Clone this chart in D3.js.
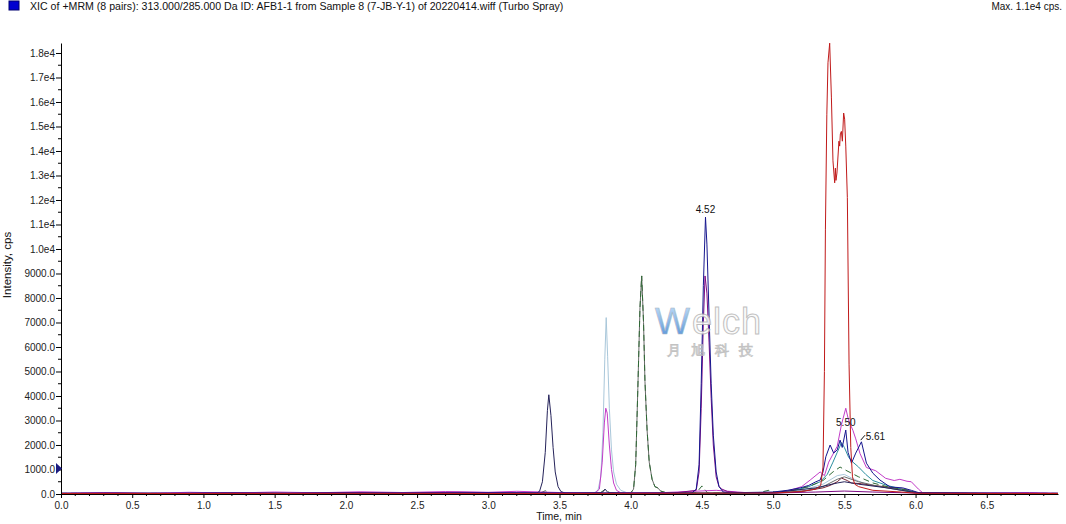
<!DOCTYPE html>
<html><head><meta charset="utf-8">
<script src="https://cdn.jsdelivr.net/npm/d3@7"></script>
<style>
body{margin:0;background:#fff;}
svg{display:block;}
text{font-family:"Liberation Sans",Arial,sans-serif;}
</style></head>
<body><svg id="c" width="1066" height="524"></svg>
<script>
// ---- data ----
const titleText = "XIC of +MRM (8 pairs): 313.000/285.000 Da ID: AFB1-1 from Sample 8 (7-JB-Y-1) of 20220414.wiff (Turbo Spray)";
const maxText = "Max. 1.1e4 cps.";
const xTickValues = [0,0.5,1.0,1.5,2.0,2.5,3.0,3.5,4.0,4.5,5.0,5.5,6.0,6.5];
const yTickValues = [0,1000,2000,3000,4000,5000,6000,7000,8000,9000,10000,11000,12000,13000,14000,15000,16000,17000,18000];
const peakLabels = [{t:4.525, v:11300, text:"4.52"},{t:5.51, v:2610, text:"5.50"}];

const tNavy = [0,0.4,0.8,1.2,1.6,2.0,2.4,2.8,3.1,3.3,3.34,3.36,3.38,3.40,3.415,3.425,3.44,3.455,3.47,3.49,3.51,3.54,3.6,3.8,3.82,3.84,4.0,4.3,4.6,5.0,5.3,5.45,5.5,5.6,5.8,6.0,6.4,6.8,7.0];
const vNavy = [20,35,15,40,20,45,30,50,35,40,40,110,500,1700,3400,4050,3200,1900,900,300,100,40,30,60,200,60,30,40,30,60,250,450,500,400,250,60,30,25,20];

const tLightBlue = [0,0.5,1.0,1.5,2.0,2.5,3.0,3.5,3.74,3.77,3.79,3.805,3.818,3.828,3.838,3.85,3.865,3.88,3.90,3.93,3.97,4.2,4.6,5.0,5.2,5.35,5.45,5.50,5.55,5.65,5.8,5.95,6.02,6.5,7.0];
const vLightBlue = [25,20,30,25,35,30,40,30,40,150,700,2500,5500,7200,5600,3500,1800,900,400,150,60,40,30,60,150,400,750,800,650,400,250,120,40,20,25];

const tMagenta = [0,0.3,0.6,0.9,1.2,1.5,1.8,2.1,2.4,2.7,3.0,3.2,3.5,3.75,3.78,3.80,3.815,3.825,3.835,3.85,3.865,3.88,3.90,3.93,4.2,4.6,4.8,5.0,5.1,5.2,5.26,5.33,5.36,5.39,5.45,5.48,5.51,5.53,5.56,5.58,5.61,5.655,5.72,5.79,5.85,5.89,5.94,5.97,6.02,6.05,6.4,6.8,7.0];
const vMagenta = [30,60,25,70,40,80,50,90,60,100,70,110,60,40,200,1300,2900,3500,3300,2000,1000,450,150,50,50,150,60,60,120,300,570,900,750,1300,1950,2840,3500,3000,2600,2250,1650,1080,950,640,550,600,520,500,200,50,40,60,30];

const tGray = [0,0.5,1.0,1.5,2.0,2.5,3.0,3.5,4.0,4.02,4.035,4.05,4.065,4.077,4.09,4.10,4.115,4.13,4.15,4.17,4.19,4.21,4.25,4.5,5.0,5.2,5.35,5.45,5.5,5.6,5.75,5.9,6.0,6.5,7.0];
const vGray = [20,25,20,30,25,30,25,35,40,200,1200,4300,7600,8900,7000,4600,2600,1300,600,300,250,120,50,40,50,100,300,600,700,500,300,150,40,25,20];

const tGreen = [0,0.5,1.0,1.5,2.0,2.5,3.0,3.36,3.40,3.44,3.5,3.78,3.82,3.86,4.0,4.02,4.035,4.05,4.065,4.077,4.09,4.10,4.115,4.13,4.15,4.17,4.19,4.21,4.25,4.46,4.50,4.54,4.7,4.9,4.97,5.02,5.1,5.25,5.35,5.42,5.47,5.50,5.55,5.60,5.70,5.80,5.95,6.02,6.5,7.0];
const vGreen = [30,20,35,25,30,40,30,30,130,30,30,30,180,30,40,200,1200,4300,7600,8900,7000,4600,2600,1300,600,300,250,120,50,40,330,40,40,60,150,60,120,300,550,900,1100,1000,850,700,450,300,150,40,25,30];

const tTeal = [0,1.0,2.0,3.0,4.0,4.8,5.0,5.15,5.25,5.33,5.38,5.42,5.45,5.48,5.50,5.53,5.56,5.60,5.65,5.70,5.80,5.90,6.0,6.5,7.0];
const vTeal = [20,25,20,30,25,30,30,150,300,500,800,1300,1700,2100,1900,1500,1300,1100,800,550,350,200,60,20,20];

const tBrown = [0,1.0,2.0,3.0,4.0,5.0,5.1,5.25,5.35,5.40,5.45,5.48,5.52,5.55,5.62,5.70,5.78,5.85,5.93,6.0,6.5,7.0];
const vBrown = [15,20,15,20,20,30,60,150,250,350,500,650,550,450,420,350,300,250,180,50,20,15];

const tPurple = [0,0.4,0.8,1.2,1.6,2.0,2.4,2.8,3.2,3.6,4.0,4.3,4.46,4.48,4.495,4.51,4.522,4.535,4.55,4.565,4.58,4.60,4.62,4.64,4.68,4.75,5.0,5.3,5.5,5.7,6.0,6.5,7.0];
const vPurple = [25,40,30,50,35,60,45,70,50,40,35,40,150,900,3500,7000,8900,8200,6200,3900,2000,700,300,200,100,60,40,80,120,80,40,30,25];

const tBlue = [0,0.5,1.0,1.5,2.0,2.5,3.0,3.5,4.0,4.43,4.46,4.48,4.495,4.51,4.525,4.535,4.55,4.565,4.58,4.60,4.62,4.65,4.7,5.0,5.1,5.19,5.25,5.30,5.33,5.35,5.37,5.40,5.425,5.45,5.47,5.485,5.51,5.526,5.55,5.58,5.62,5.655,5.70,5.75,5.82,5.91,5.97,6.03,6.5,7.0];
const vBlue = [30,25,35,30,40,35,45,40,35,40,200,1200,4500,8500,11300,10200,7300,4500,2400,900,300,80,50,80,150,250,350,500,570,900,1520,2000,1670,1800,2200,1900,2610,1700,1260,1670,2130,1260,850,570,290,250,150,40,30,25];

const tRed = [0,1.0,2.0,3.0,4.0,5.0,5.2,5.3,5.334,5.35,5.36,5.367,5.377,5.385,5.397,5.409,5.42,5.432,5.437,5.441,5.448,5.462,5.467,5.472,5.479,5.486,5.495,5.502,5.51,5.521,5.533,5.545,5.557,5.573,5.6,5.7,5.9,6.0,6.5,7.0];
const vRed = [20,20,25,20,25,40,100,200,350,1100,5000,10780,15500,17600,18400,16200,13600,12700,13300,12800,13100,14400,14200,14700,14800,14400,15550,15300,14200,12100,5300,1900,700,400,300,150,80,30,20,20];

const series = [
  {t:tLightBlue, v:vLightBlue, color:"#a9c7da"},
  {t:tBrown, v:vBrown, color:"#7b2433"},
  {t:tGray, v:vGray, color:"#6a6a6a"},
  {t:tTeal, v:vTeal, color:"#2a8fa0"},
  {t:tGreen, v:vGreen, color:"#2f6a35", dash:"6,4"},
  {t:tMagenta, v:vMagenta, color:"#c23cc8"},
  {t:tNavy, v:vNavy, color:"#25235a"},
  {t:tPurple, v:vPurple, color:"#7e0a84"},
  {t:tBlue, v:vBlue, color:"#16168e"},
  {t:tRed, v:vRed, color:"#c01a1a"}
];

// ---- drawing ----
const svg = d3.select("#c");
svg.append("rect").attr("width",1066).attr("height",524).attr("fill","#fff");

const x = d3.scaleLinear().domain([0,7]).range([61,1058]);
const y = d3.scaleLinear().domain([0,18408]).range([494,43]);

// title
svg.append("rect").attr("x",9).attr("y",1).attr("width",10).attr("height",9).attr("fill","#0000d0").attr("stroke","#000070");
svg.append("text").attr("x",30).attr("y",10).attr("font-size",10.6).attr("fill","#111").text(titleText);
svg.append("text").attr("x",1062).attr("y",10).attr("font-size",10).attr("fill","#111").attr("text-anchor","end").text(maxText);

// traces
const line = d3.line().x(d=>x(d[0])).y(d=>y(d[1]));
const g = svg.append("g");
series.forEach(s=>{
  const pts = s.t.map((t,i)=>[t,s.v[i]]);
  g.append("path").attr("d",line(pts)).attr("fill","none").attr("stroke",s.color)
   .attr("stroke-width",1).attr("stroke-dasharray",s.dash||null);
});

// axes
const fmtY = v => v>=10000 ? (v/10000).toFixed(1)+"e4" : v.toFixed(1);
const yAxis = svg.append("g").attr("transform","translate(61,0)")
  .call(d3.axisLeft(y).tickValues(yTickValues).tickFormat(fmtY).tickSize(5).tickPadding(1).tickSizeOuter(0));
const yMinor = d3.range(500,18408,1000);
yAxis.selectAll(".minor").data(yMinor).enter().append("line").attr("class","minor")
  .attr("x1",-3).attr("x2",0).attr("y1",d=>y(d)).attr("y2",d=>y(d)).attr("stroke","#000");
const xAxis = svg.append("g").attr("transform","translate(0,494)")
  .call(d3.axisBottom(x).tickValues(xTickValues).tickFormat(d=>d.toFixed(1)).tickSize(4).tickPadding(4).tickSizeOuter(0));
const xMinor = d3.range(0,70).map(i=>i/10).filter(v=>Math.round(v*10)%5!==0);
xAxis.selectAll(".minor").data(xMinor).enter().append("line").attr("class","minor")
  .attr("x1",d=>x(d)).attr("x2",d=>x(d)).attr("y1",0).attr("y2",2).attr("stroke","#000");
[xAxis,yAxis].forEach(a=>{
  a.selectAll("text").attr("font-size",10).attr("font-family","Liberation Sans, Arial, sans-serif").attr("fill","#222");
  a.select(".domain").attr("stroke","#000");
});

// axis titles
svg.append("text").attr("x",559).attr("y",520).attr("font-size",10.5).attr("text-anchor","middle").attr("fill","#111").text("Time, min");
svg.append("text").attr("transform","translate(11,265) rotate(-90)").attr("font-size",11.5).attr("text-anchor","middle").attr("fill","#111").text("Intensity, cps");

// threshold marker
svg.append("path").attr("d","M56,463 L62,468.5 L56,474 Z").attr("fill","#1a1a80");

// peak labels
peakLabels.forEach(p=>{
  svg.append("text").attr("x",x(p.t)).attr("y",y(p.v)-4).attr("font-size",10).attr("text-anchor","middle").attr("fill","#111").text(p.text);
});
svg.append("line").attr("x1",x(5.615)).attr("y1",y(2200)).attr("x2",x(5.645)).attr("y2",y(2400)).attr("stroke","#111");
svg.append("text").attr("x",x(5.65)).attr("y",y(2200)).attr("font-size",10).attr("fill","#111").text("5.61");

// watermark
const defs = svg.append("defs");
const gr = defs.append("linearGradient").attr("id","wg").attr("x1","0").attr("y1","0").attr("x2","0").attr("y2","1");
gr.append("stop").attr("offset","0").attr("stop-color","#bfe0fa");
gr.append("stop").attr("offset","1").attr("stop-color","#2f78d0");
const wm = svg.append("g").attr("opacity",0.85);
wm.append("text").attr("x",655).attr("y",334).attr("font-size",37).attr("font-family","DejaVu Sans, sans-serif")
  .attr("fill","url(#wg)").attr("stroke","#9ab").attr("stroke-width",0.6).text("W");
wm.append("text").attr("x",692).attr("y",334).attr("font-size",36).attr("font-family","DejaVu Sans, sans-serif")
  .attr("fill","#fbfbfb").attr("stroke","#b5b5b5").attr("stroke-width",1).attr("letter-spacing",1).text("elch");
wm.append("text").attr("x",667).attr("y",355).attr("font-size",14).attr("font-family","Noto Sans CJK SC, sans-serif")
  .attr("fill","#fafafa").attr("stroke","#b8b8b8").attr("stroke-width",0.8).attr("letter-spacing",10).text("月旭科技");
</script></body></html>
